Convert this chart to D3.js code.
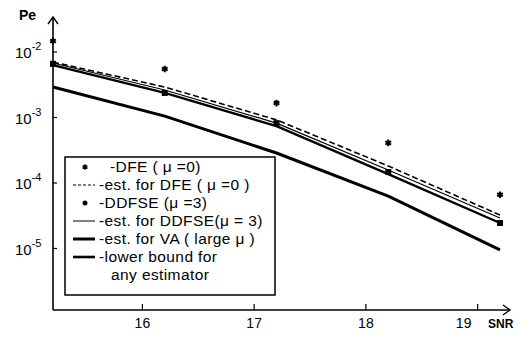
<!DOCTYPE html>
<html>
<head>
<meta charset="utf-8">
<script src="https://cdn.jsdelivr.net/npm/d3@7"></script>
<style>
  body { margin: 0; background: #fff; }
  svg { display: block; font-family: "Liberation Sans", Arial, sans-serif; }
</style>
</head>
<body>
<div id="chart"></div>
<script>
// values
const snr = [15.2, 16.2, 17.2, 18.2, 19.2];
const dfeSim = [1.47e-2, 5.5e-3, 1.66e-3, 4.1e-4, 6.6e-5];
const dfeEst = [7.0e-3, 2.92e-3, 9.2e-4, 1.82e-4, 3.24e-5];
const ddfseSim = [6.6e-3, 2.37e-3, 8.2e-4, 1.47e-4, 2.45e-5];
const ddfseEst = [6.8e-3, 2.63e-3, 8.2e-4, 1.58e-4, 2.92e-5];
const vaEst = [6.3e-3, 2.37e-3, 7.4e-4, 1.37e-4, 2.45e-5];
const lowerBound = [2.92e-3, 1.05e-3, 2.87e-4, 6.3e-5, 9.5e-6];

const xTicks = [16, 17, 18, 19];
const yTicks = [1e-2, 1e-3, 1e-4, 1e-5];
const yTickExp = ["-2", "-3", "-4", "-5"];

const legendRows = [
  {label: "-DFE  ( \u03bc =0)", kind: "star"},
  {label: "-est. for DFE ( \u03bc =0 )", kind: "dash"},
  {label: "-DDFSE  (\u03bc =3)", kind: "dot"},
  {label: "-est. for DDFSE(\u03bc = 3)", kind: "thin"},
  {label: "-est. for  VA ( large \u03bc )", kind: "thick"},
  {label: "-lower bound for", kind: "bound"},
  {label: "any estimator", kind: "none"}
];

const width = 526, height = 343;
const svg = d3.select("#chart").append("svg")
  .attr("width", width).attr("height", height);

// scales: x from y-axis (15.2) to last point, y log
const x = d3.scaleLinear().domain([15.2, 19.2]).range([53, 500]);
const y = d3.scaleLog().domain([1e-2, 1e-5]).range([52, 248.5]);

const axisY = 310, axisX = 53;

// axes
svg.append("line").attr("x1", axisX).attr("x2", axisX).attr("y1", axisY).attr("y2", 17)
  .attr("stroke", "#000").attr("stroke-width", 1.6);
svg.append("path").attr("d", `M${axisX-5},${24} L${axisX},${17} L${axisX+5},${24}`)
  .attr("fill", "none").attr("stroke", "#000").attr("stroke-width", 1.4);
svg.append("line").attr("x1", axisX).attr("x2", 510).attr("y1", axisY).attr("y2", axisY)
  .attr("stroke", "#000").attr("stroke-width", 1.6);
svg.append("path").attr("d", `M503,${axisY-5} L510,${axisY} L503,${axisY+5}`)
  .attr("fill", "none").attr("stroke", "#000").attr("stroke-width", 1.4);

svg.append("text").attr("x", 19).attr("y", 20).text("Pe")
  .style("font-size", "14px").style("font-weight", "bold");
svg.append("text").attr("x", 488).attr("y", 328).text("SNR")
  .style("font-size", "12px").style("font-weight", "bold");

// x ticks
svg.selectAll(".xt").data(xTicks).enter().append("line")
  .attr("x1", d => x(d)).attr("x2", d => x(d))
  .attr("y1", axisY).attr("y2", axisY - 6)
  .attr("stroke", "#000").attr("stroke-width", 1.2);
svg.selectAll(".xl").data(xTicks).enter().append("text")
  .attr("x", (d, i) => x(d) - (i === xTicks.length - 1 ? 14 : 0)).attr("y", 328)
  .attr("text-anchor", "middle")
  .style("font-size", "14px")
  .text(d => d);

// y ticks
svg.selectAll(".yt").data(yTicks).enter().append("line")
  .attr("x1", axisX).attr("x2", axisX + 4)
  .attr("y1", d => y(d)).attr("y2", d => y(d))
  .attr("stroke", "#000").attr("stroke-width", 1.2);
const yl = svg.selectAll(".yl").data(yTicks).enter().append("text")
  .attr("x", 15).attr("y", d => y(d) + 6)
  .style("font-size", "15px");
yl.append("tspan").text("10");
yl.append("tspan").attr("dy", -8).style("font-size", "11px").text((d, i) => yTickExp[i]);

// lines
const line = d3.line()
  .x(d => x(d[0])).y(d => y(d[1]));
const pts = arr => snr.map((s, i) => [s, arr[i]]);

svg.append("path").attr("d", line(pts(lowerBound)))
  .attr("fill", "none").attr("stroke", "#000").attr("stroke-width", 3)
  .attr("stroke-linejoin", "round");
svg.append("path").attr("d", line(pts(vaEst)))
  .attr("fill", "none").attr("stroke", "#000").attr("stroke-width", 2.4)
  .attr("stroke-linejoin", "round");
svg.append("path").attr("d", line(pts(ddfseEst)))
  .attr("fill", "none").attr("stroke", "#000").attr("stroke-width", 1.2);
svg.append("path").attr("d", line(pts(dfeEst)))
  .attr("fill", "none").attr("stroke", "#000").attr("stroke-width", 1.6)
  .attr("stroke-dasharray", "6,3");

// markers
svg.selectAll(".dot").data(pts(ddfseSim)).enter().append("rect")
  .attr("x", d => x(d[0]) - 3).attr("y", d => y(d[1]) - 3)
  .attr("width", 6).attr("height", 6).attr("fill", "#000");
svg.selectAll(".star").data(pts(dfeSim)).enter().append("path")
  .attr("transform", d => `translate(${x(d[0])},${y(d[1])})`)
  .attr("d", d3.symbol().type(d3.symbolAsterisk).size(30))
  .attr("fill", "none").attr("stroke", "#000").attr("stroke-width", 2);

// legend
const lg = svg.append("g");
lg.append("rect").attr("x", 65).attr("y", 157).attr("width", 210).attr("height", 138)
  .attr("fill", "#fff").attr("stroke", "#000").attr("stroke-width", 1.5);
const rowY = i => 167 + i * 18;
const textX = {star: 110, none: 111};
legendRows.forEach((r, i) => {
  const cy = rowY(i);
  if (r.kind === "star") {
    lg.append("path").attr("transform", `translate(85,${cy})`)
      .attr("d", d3.symbol().type(d3.symbolAsterisk).size(22))
      .attr("stroke", "#000").attr("stroke-width", 1.6);
  } else if (r.kind === "dot") {
    lg.append("circle").attr("cx", 85).attr("cy", cy).attr("r", 2.5).attr("fill", "#000");
  } else if (r.kind !== "none") {
    const sw = {dash: 1.2, thin: 1, thick: 3, bound: 2.6}[r.kind];
    lg.append("line").attr("x1", 73).attr("x2", 95).attr("y1", cy).attr("y2", cy)
      .attr("stroke", "#000").attr("stroke-width", sw)
      .attr("stroke-dasharray", r.kind === "dash" ? "3,2" : null);
  }
  lg.append("text").attr("x", textX[r.kind] || 99).attr("y", cy + 5)
    .style("font-size", "15.5px").style("letter-spacing", "0.4px").text(r.label);
});
</script>
</body>
</html>
